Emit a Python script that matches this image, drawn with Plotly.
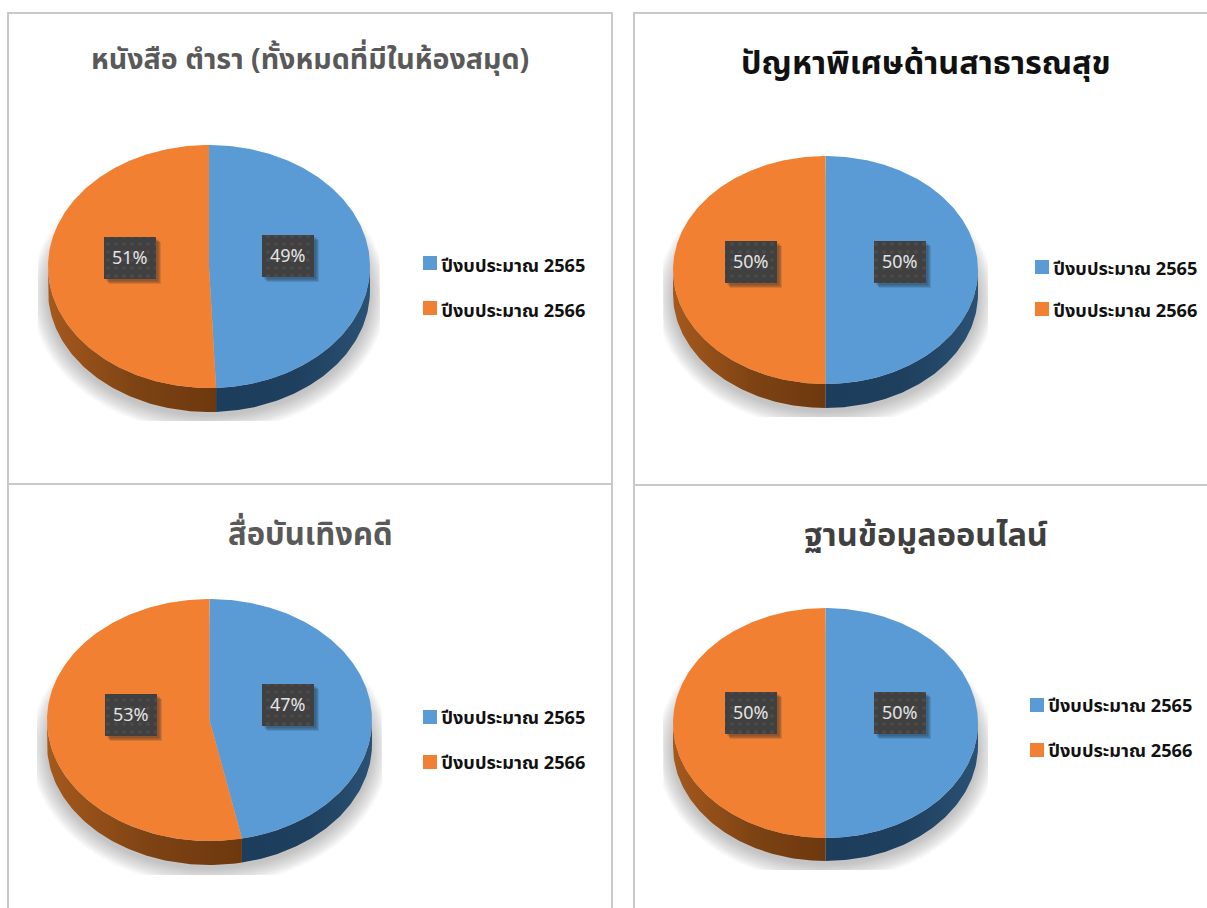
import numpy as np
import plotly.graph_objects as go

# ---- data ----
CATEGORIES = ["ปีงบประมาณ 2565", "ปีงบประมาณ 2566"]
TITLES = ["หนังสือ ตำรา (ทั้งหมดที่มีในห้องสมุด)", "ปัญหาพิเศษด้านสาธารณสุข", "สื่อบันเทิงคดี", "ฐานข้อมูลออนไลน์"]
BOOKS = [49.3, 50.7]
PUBLIC_HEALTH = [50, 50]
FICTION = [46.8, 53.2]
ONLINE_DB = [50, 50]
SERIES = [BOOKS, PUBLIC_HEALTH, FICTION, ONLINE_DB]

# ---- styles / layout ----
TOP_COLORS = ["#5B9BD5", "#F18033"]
SIDE_SCALES = [
    [[0, "#1D3D5C"], [0.5, "#1F3F5E"], [1, "#2A5174"]],
    [[0, "#A5591D"], [0.55, "#7C4213"], [1, "#6E380E"]],
]
FONT = "Noto Sans, Noto Sans CJK SC, DejaVu Sans, sans-serif"
THAI = "Noto Sans Thai, Noto Sans, DejaVu Sans, sans-serif"
PANELS = [
    dict(cx=209, cy=266.5, rx=161, ry=121.5, d=24, title=(310, 60), tsize=28.6, tcolor="#595959",
         box=[(288, 256), (130, 258)], leg=(423, [263, 308]), tdy=3, shadow_bottom=421),
    dict(cx=825.5, cy=270, rx=152.5, ry=114, d=24, title=(926, 64), tsize=32.4, tcolor="#111111",
         box=[(900, 262), (751, 262)], leg=(1035, [267, 309]), tdy=2, shadow_bottom=417),
    dict(cx=209.5, cy=720, rx=162.5, ry=121, d=24, title=(310, 535), tsize=31, tcolor="#595959",
         box=[(288, 705), (131, 715)], leg=(423, [717, 762]), tdy=1, shadow_bottom=875),
    dict(cx=825.5, cy=723, rx=152.5, ry=115, d=23, title=(926, 536), tsize=32.5, tcolor="#404040",
         box=[(900, 713), (751, 713)], leg=(1030, [705, 750]), tdy=1, shadow_bottom=870),
]
FRAME = "#C9C9C9"
FRAMES = [(8, 13, 612, 484), (634, 13, 1300, 485), (8, 484, 612, 1000), (634, 485, 1300, 1000)]

fig = go.Figure()


def add_poly(xs, ys, **kw):
    fig.add_trace(go.Scatter(x=list(xs), y=list(ys), mode="lines", fill="toself",
                             line=dict(width=0), hoverinfo="skip", showlegend=False, **kw))


for values, p in zip(SERIES, PANELS):
    cx, cy, rx, ry, d = p["cx"], p["cy"], p["rx"], p["ry"], p["d"]

    # soft shadow under the disc: nested translucent ellipses clipped to a box
    for k in range(14):
        grow = 17 - k * 1.3
        t = np.linspace(0, 2 * np.pi, 200)
        xs = np.clip(cx + (rx + grow) * np.sin(t), cx - rx - 10, cx + rx + 10)
        ys = np.minimum(cy + d * 1.15 + (ry + grow) * np.cos(t), p["shadow_bottom"])
        add_poly(xs, ys, fillcolor="rgba(115,115,115,0.04)")

    # rim of each slice, only on the front half of the disc
    total = sum(values)
    start = 0.0
    for i, v in enumerate(values):
        end = start + v / total * 2 * np.pi
        a0, a1 = max(start, np.pi / 2), min(end, 3 * np.pi / 2)
        if a1 > a0:
            t = np.linspace(a0, a1, 90)
            xs = cx + rx * np.sin(t)
            ys = cy - ry * np.cos(t)
            fig.add_trace(go.Scatter(
                x=np.r_[xs, xs[::-1]], y=np.r_[ys, ys[::-1] + d], mode="lines", fill="toself",
                line=dict(width=0), hoverinfo="skip", showlegend=False,
                fillgradient=dict(type="horizontal", colorscale=SIDE_SCALES[i])))
        start = end

    # top faces
    start = 0.0
    for i, v in enumerate(values):
        end = start + v / total * 2 * np.pi
        t = np.linspace(start, end, 240)
        add_poly(np.r_[cx, cx + rx * np.sin(t), cx], np.r_[cy, cy - ry * np.cos(t), cy],
                 fillcolor=TOP_COLORS[i])
        start = end

    # percentage labels with a dotted dark box and soft drop shadow
    for v, (bx, by) in zip(values, p["box"]):
        w, h = 26, 21
        for off, alpha in ((5, 0.12), (4, 0.16), (2.5, 0.22)):
            add_poly([bx - w + off, bx + w + off, bx + w + off, bx - w + off, bx - w + off],
                     [by - h + off, by - h + off, by + h + off, by + h + off, by - h + off],
                     fillcolor=f"rgba(20,30,40,{alpha})")
        add_poly([bx - w, bx + w, bx + w, bx - w, bx - w],
                 [by - h, by - h, by + h, by + h, by - h],
                 fillcolor="#404040",
                 fillpattern=dict(shape=".", bgcolor="#404040", fgcolor="#555555", size=8, solidity=0.18))
        fig.add_annotation(x=bx, y=by - 1, text=f"{round(v / total * 100)}%", showarrow=False,
                           font=dict(family=FONT, size=18, color="#E4E4E4"))

    # legend
    lx, lys = p["leg"]
    for name, col, ly in zip(CATEGORIES, TOP_COLORS, lys):
        fig.add_trace(go.Scatter(x=[lx + 7], y=[ly], mode="markers",
                                 marker=dict(symbol="square", size=14, color=col, line=dict(width=0)),
                                 hoverinfo="skip", showlegend=False))
        fig.add_annotation(x=lx + 16, y=ly + p["tdy"], text=f"<b>{name}</b>", showarrow=False, xanchor="left",
                           font=dict(family=THAI, size=18.2, color="#111111"))

for title, p in zip(TITLES, PANELS):
    fig.add_annotation(x=p["title"][0], y=p["title"][1], text=f"<b>{title}</b>", showarrow=False,
                       font=dict(family=THAI, size=p["tsize"], color=p["tcolor"]))

for x0, y0, x1, y1 in FRAMES:
    fig.add_shape(type="rect", xref="x", yref="y", x0=x0, y0=y0, x1=x1, y1=y1,
                  line=dict(color=FRAME, width=2), layer="below")

fig.update_layout(
    width=1207, height=908, margin=dict(l=0, r=0, t=0, b=0),
    paper_bgcolor="white", plot_bgcolor="white", showlegend=False,
    xaxis=dict(range=[0, 1207], visible=False, fixedrange=True),
    yaxis=dict(range=[908, 0], visible=False, fixedrange=True),
)
fig.write_html("out.html", config=dict(displayModeBar=False),
               post_script="document.body.style.margin='0';document.documentElement.style.overflow='hidden';")
